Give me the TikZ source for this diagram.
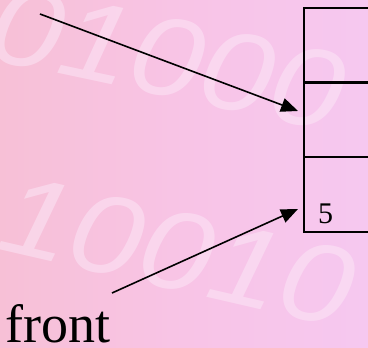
\documentclass[tikz,border=0pt]{standalone}
\usepackage{fontspec}
\setmainfont{Liberation Serif}
\newfontfamily\bgfont[FakeStretch=1.15]{Liberation Sans}
\usetikzlibrary{arrows.meta}
\definecolor{bgpink}{HTML}{F8C4E6}
\definecolor{bgsalmon}{HTML}{F7C0D6}
\definecolor{bglav}{HTML}{F6C8F0}
\definecolor{digit}{HTML}{FCE6F6}
\tikzset{
  cell/.style={draw=black, line width=2.2pt, rectangle, anchor=north west, inner sep=0pt,
    minimum width=100pt, minimum height=74.7pt},
  ptr/.style={draw=black, line width=1.6pt, -{Triangle[length=17pt,width=14pt]}},
  bgdigits/.style={text=digit, font=\bgfont\itshape\fontsize{112}{112}\selectfont, opacity=0.55, inner sep=0pt},
}
\begin{document}
\begin{tikzpicture}[x=1pt,y=-1pt]
\useasboundingbox (0,0) rectangle (368,348);
\clip (0,0) rectangle (368,348);
\shade[left color=bgsalmon, right color=bglav, middle color=bgpink] (0,0) rectangle (368,348);
% faint background digits
\node[bgdigits, rotate=-12, anchor=base west] (bga) at (-16,58) {01000};
\node[bgdigits, rotate=-13, anchor=base west] (bgb) at (-6,248) {10010};
% table
\node[cell] (c1) at (303,7) {};
\node[cell] (c2) at (303,81.5) {};
\node[cell] (c3) at (303,156) {};
\node[anchor=base west, inner sep=0pt, font=\fontsize{30}{32}\selectfont] (five) at (318,223) {5};
% label
\node[anchor=base west, inner sep=0pt, font=\fontsize{54}{60}\selectfont] (front) at (5,342) {front};
% pointers
\coordinate (s1) at (40,14);
\coordinate (t1) at (298,111);
\coordinate (s2) at (112,293);
\coordinate (t2) at (298,209);
\draw[ptr] (s1) -- (t1);
\draw[ptr] (s2) -- (t2);
\end{tikzpicture}
\end{document}
